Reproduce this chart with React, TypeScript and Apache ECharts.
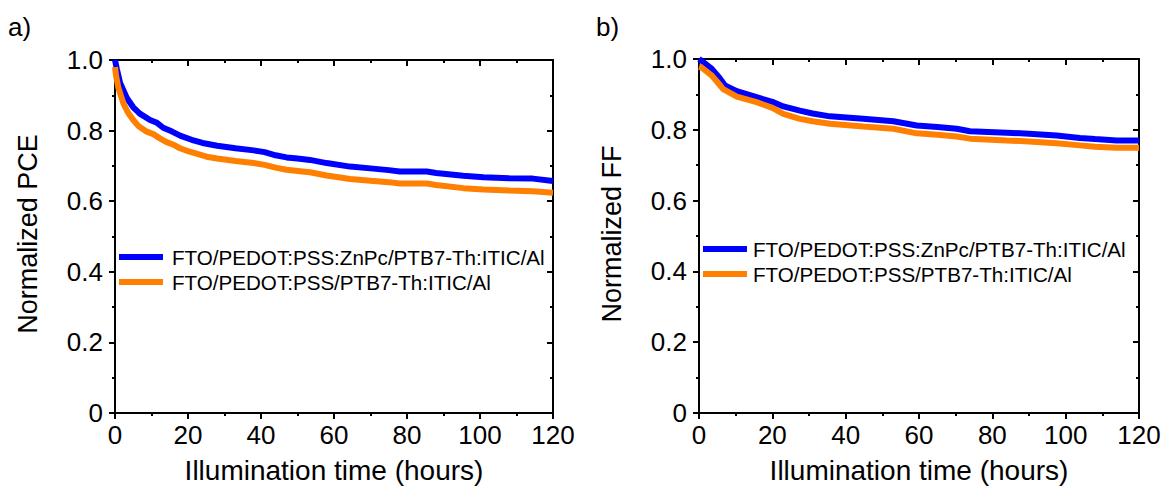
import React, { useEffect, useRef } from "react";
import * as echarts from "echarts";

const seriesNames = ["FTO/PEDOT:PSS:ZnPc/PTB7-Th:ITIC/Al", "FTO/PEDOT:PSS/PTB7-Th:ITIC/Al"];
const panelLabels = ["a)", "b)"];
const yTitles = ["Normalized PCE", "Normalized FF"];
const xTitle = "Illumination time (hours)";

const pceBlueT = [0, 0.5, 1.4, 3.2, 5, 6.8, 9.6, 11.5, 13.2, 15.5, 18, 21, 24, 28, 33, 38, 41, 44, 47, 50, 53.4, 58, 64.4, 70, 75, 78, 85.4, 88, 95.4, 101, 108, 114.5, 120];
const pceBlueV = [1.0, 0.975, 0.935, 0.893, 0.866, 0.848, 0.83, 0.822, 0.808, 0.798, 0.785, 0.774, 0.765, 0.757, 0.75, 0.744, 0.739, 0.73, 0.724, 0.721, 0.717, 0.708, 0.698, 0.693, 0.688, 0.684, 0.684, 0.68, 0.672, 0.668, 0.665, 0.664, 0.657];

const pceOrangeT = [0, 0.3, 0.9, 2.3, 3.5, 5, 6.5, 8.7, 10.5, 12.3, 14, 16, 17.8, 20, 25.1, 28, 33, 38, 41, 44, 47, 50.7, 53.4, 58, 64.4, 70, 75, 78, 85.4, 88, 95.4, 101, 108, 114.5, 120];
const pceOrangeV = [0.98, 0.955, 0.922, 0.877, 0.852, 0.83, 0.812, 0.797, 0.79, 0.778, 0.768, 0.76, 0.75, 0.742, 0.726, 0.721, 0.714, 0.708, 0.703, 0.695, 0.689, 0.685, 0.682, 0.673, 0.663, 0.658, 0.654, 0.65, 0.65, 0.646, 0.637, 0.633, 0.63, 0.628, 0.624];

const ffBlueT = [0, 0.7, 3.5, 5.5, 7.1, 10.3, 15.7, 20, 23, 27.5, 31, 35.7, 44.8, 53, 59.4, 65, 70.3, 73.9, 83.9, 90, 97.5, 103.9, 108, 113.9, 120];
const ffBlueV = [1.0, 0.995, 0.972, 0.948, 0.925, 0.909, 0.892, 0.879, 0.866, 0.854, 0.846, 0.838, 0.831, 0.824, 0.812, 0.808, 0.803, 0.796, 0.792, 0.789, 0.784, 0.777, 0.774, 0.77, 0.77];

const ffOrangeT = [0, 0.7, 3.5, 5, 6.6, 10.3, 15.7, 20, 23, 27.5, 31, 35.7, 44.8, 53, 59.4, 65, 70.3, 73.9, 83.9, 90, 97.5, 103.9, 108, 113.9, 120];
const ffOrangeV = [0.978, 0.976, 0.953, 0.935, 0.915, 0.894, 0.878, 0.862, 0.845, 0.831, 0.824, 0.817, 0.809, 0.803, 0.79, 0.786, 0.781, 0.775, 0.77, 0.767, 0.762, 0.756, 0.752, 0.749, 0.749];

const xMin = 0, xMax = 120, xInterval = 20;
const yMin = 0, yMax = 1, yInterval = 0.2;

const BLUE = "#0000ff";
const ORANGE = "#ff7f00";
const FONT = "'Liberation Sans', Arial, Helvetica, sans-serif";

const zip = (t: number[], v: number[]) => t.map((x, i) => [x, v[i]]);

export default function App() {
  const ref = useRef<HTMLDivElement>(null);
  useEffect(() => {
    document.body.style.margin = "0";
    const chart = echarts.init(ref.current!, null, { renderer: "svg" });
    const grids = [
      { left: 115, top: 60, width: 438, height: 353 },
      { left: 699, top: 59, width: 440, height: 354 },
    ];
    const axisLine = { show: true, onZero: false, lineStyle: { color: "#000", width: 2 } };
    const xAxes: any[] = [];
    const yAxes: any[] = [];
    grids.forEach((_, gi) => {
      xAxes.push({
        type: "value", gridIndex: gi, min: xMin, max: xMax, interval: xInterval, position: "bottom",
        axisLine, axisTick: { show: true, inside: false, length: 6, lineStyle: { width: 2, color: "#000" } },
        minorTick: { show: true, splitNumber: 2, length: 3, lineStyle: { width: 2, color: "#000" } },
        splitLine: { show: false },
        axisLabel: { color: "#000", fontSize: 26, fontFamily: FONT, margin: 9, formatter: (v: number) => String(v) },
      });
      xAxes.push({
        type: "value", gridIndex: gi, min: xMin, max: xMax, interval: xInterval, position: "top",
        axisLine, axisTick: { show: true, inside: true, length: 6, lineStyle: { width: 2, color: "#000" } },
        minorTick: { show: true, splitNumber: 2, length: 3, lineStyle: { width: 2, color: "#000" } },
        splitLine: { show: false }, axisLabel: { show: false },
      });
      yAxes.push({
        type: "value", gridIndex: gi, min: yMin, max: yMax, interval: yInterval, position: "left",
        axisLine, axisTick: { show: true, inside: false, length: 6, lineStyle: { width: 2, color: "#000" } },
        minorTick: { show: true, splitNumber: 2, length: 3, lineStyle: { width: 2, color: "#000" } },
        splitLine: { show: false },
        axisLabel: { color: "#000", fontSize: 26, fontFamily: FONT, margin: 12, formatter: (v: number) => (v === 0 ? "0" : v.toFixed(1)) },
      });
      yAxes.push({
        type: "value", gridIndex: gi, min: yMin, max: yMax, interval: yInterval, position: "right",
        axisLine, axisTick: { show: true, inside: true, length: 6, lineStyle: { width: 2, color: "#000" } },
        minorTick: { show: true, splitNumber: 2, length: 3, lineStyle: { width: 2, color: "#000" } },
        splitLine: { show: false }, axisLabel: { show: false },
      });
    });

    const lineSeries = (name: string, color: string, data: number[][], gi: number) => ({
      type: "line", name, xAxisIndex: gi * 2, yAxisIndex: gi * 2, data, showSymbol: false, symbol: "none",
      lineStyle: { color, width: 6 }, itemStyle: { color }, z: 3,
    });

    const legendBase = {
      orient: "vertical", icon: "rect", itemWidth: 44, itemHeight: 6, itemGap: 4, padding: 0,
      data: seriesNames, selectedMode: false,
    };

    const titleFont = `26px ${FONT}`;
    chart.setOption({
      animation: false,
      grid: grids,
      xAxis: xAxes,
      yAxis: yAxes,
      legend: [
        { ...legendBase, left: 119, top: 246.5, textStyle: { color: "#000", fontSize: 20.6, fontFamily: FONT, lineHeight: 21, padding: [0, 0, 0, 4] } },
        { ...legendBase, left: 703, top: 238.5, textStyle: { color: "#000", fontSize: 20.6, fontFamily: FONT, lineHeight: 21, padding: [0, 0, 0, 1] } },
      ],
      series: [
        lineSeries(seriesNames[0], BLUE, zip(pceBlueT, pceBlueV), 0),
        lineSeries(seriesNames[1], ORANGE, zip(pceOrangeT, pceOrangeV), 0),
        lineSeries(seriesNames[0], BLUE, zip(ffBlueT, ffBlueV), 1),
        lineSeries(seriesNames[1], ORANGE, zip(ffOrangeT, ffOrangeV), 1),
      ],
      graphic: [
        { type: "text", left: 8, top: 14, style: { text: panelLabels[0], font: titleFont, fill: "#000" } },
        { type: "text", left: 596, top: 14, style: { text: panelLabels[1], font: titleFont, fill: "#000" } },
        { type: "text", x: 28, y: 234, rotation: Math.PI / 2, style: { text: yTitles[0], font: `27px ${FONT}`, fill: "#000", align: "center", verticalAlign: "middle" } },
        { type: "text", x: 612, y: 234, rotation: Math.PI / 2, style: { text: yTitles[1], font: `27px ${FONT}`, fill: "#000", align: "center", verticalAlign: "middle" } },
        { type: "text", x: 334, y: 470, style: { text: xTitle, font: `28px ${FONT}`, fill: "#000", align: "center", verticalAlign: "middle" } },
        { type: "text", x: 919, y: 470, style: { text: xTitle, font: `28px ${FONT}`, fill: "#000", align: "center", verticalAlign: "middle" } },
      ],
    });
    return () => chart.dispose();
  }, []);
  return <div ref={ref} style={{ width: 1165, height: 488 }} />;
}
